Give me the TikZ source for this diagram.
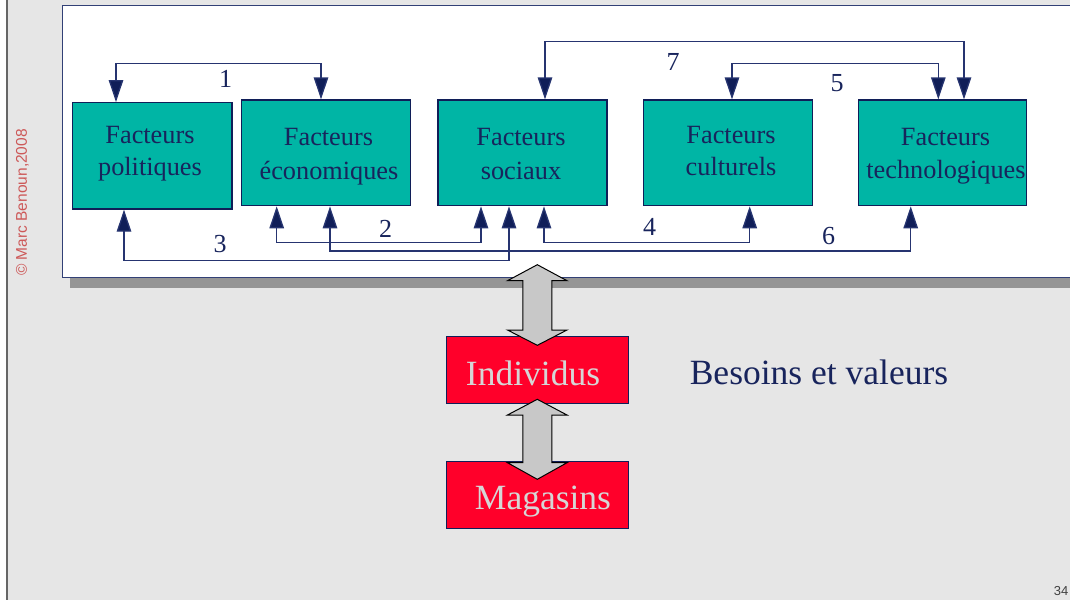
\documentclass[tikz,border=0pt]{standalone}
\usepackage{fontspec}
\setmainfont{Liberation Serif}
\newfontfamily\sansf{Liberation Sans}
\usetikzlibrary{arrows.meta}
\definecolor{bgc}{RGB}{230,230,230}
\definecolor{navy}{RGB}{16,30,88}
\definecolor{linec}{RGB}{38,52,112}
\definecolor{panelc}{RGB}{50,64,118}
\definecolor{tealbox}{RGB}{0,181,165}
\definecolor{redbox}{RGB}{255,0,42}
\definecolor{shadowc}{RGB}{149,149,149}
\definecolor{arrowgray}{RGB}{200,200,200}
\definecolor{copyc}{RGB}{205,88,88}
\definecolor{boxtxt}{RGB}{214,214,214}
\definecolor{txtc}{RGB}{24,36,92}
\tikzset{
  facbox/.style={draw=navy, line width=1.3pt, fill=tealbox, inner sep=0pt},
  redrect/.style={draw=navy, line width=0.9pt, fill=redbox, inner sep=0pt},
  btxt/.style={anchor=base, inner sep=0pt, text=txtc, font=\fontsize{26.3}{33}\selectfont},
  numlbl/.style={anchor=center, inner sep=0pt, text=txtc, font=\fontsize{26}{33}\selectfont},
  bigtxt/.style={anchor=base, inner sep=0pt, font=\fontsize{35.5}{42}\selectfont},
  tip/.tip={Triangle[width=14.5pt,length=22pt,fill=navy]},
  biarr/.style={draw=linec, line width=1.3pt, {tip}-{tip}},
  bigarr/.style={draw=black, line width=1pt, fill=arrowgray, line join=miter},
}
\begin{document}
\begin{tikzpicture}[x=1pt,y=-1pt]
\useasboundingbox (0,0) rectangle (1070,600);
\clip (0,0) rectangle (1070,600);
% background
\fill[white] (0,0) rectangle (1070,600);
\fill[bgc] (7,0) rectangle (1070,600);
\draw[gray!80!black, line width=1.2pt] (7,0) -- (7,600);
% copyright
\node[rotate=90, inner sep=0pt, text=copyc, font=\sansf\fontsize{15.5}{17}\selectfont] (copy) at (22.5,202.5) {© Marc Benoun,2008};
\node[inner sep=0pt, text=black!75, font=\sansf\fontsize{13}{15}\selectfont] (pnum) at (1061,591) {34};
% panel
\fill[shadowc] (70,15) rectangle (1090,288);
\draw[draw=panelc, line width=1.3pt, fill=white] (62.7,5.7) rectangle (1090,277.7);
% boxes
\node[facbox, minimum width=159.7pt, minimum height=106.3pt] (pol) at (152.15,155.85) {};
\node[facbox, minimum width=168.6pt, minimum height=105.7pt] (eco) at (326,152.85) {};
\node[facbox, minimum width=169pt, minimum height=105.7pt] (soc) at (522.5,152.85) {};
\node[facbox, minimum width=169pt, minimum height=105.7pt] (cult) at (727.8,152.85) {};
\node[facbox, minimum width=168.4pt, minimum height=105.7pt] (tech) at (942.5,152.85) {};
\node[btxt] (pol1) at (150,143.3) {Facteurs};
\node[btxt] (pol2) at (150,175.7) {politiques};
\node[btxt] (eco1) at (328.5,145.7) {Facteurs};
\node[btxt] (eco2) at (329,179) {économiques};
\node[btxt] (soc1) at (521,145.7) {Facteurs};
\node[btxt] (soc2) at (521,179) {sociaux};
\node[btxt] (cult1) at (731,143.3) {Facteurs};
\node[btxt] (cult2) at (731,175.7) {culturels};
\node[btxt] (tech1) at (945.5,145.7) {Facteurs};
\node[btxt] (tech2) at (946,178) {technologiques};
% connectors
\draw[biarr] (pol.north -| 116,0) -- (116,63.7) -- (321,63.7) -- (eco.north -| 321,0);
\draw[biarr] (soc.north -| 545,0) -- (545,41.7) -- (964,41.7) -- (tech.north -| 964,0);
\draw[biarr] (cult.north -| 732,0) -- (732,63.5) -- (938.3,63.5) -- (tech.north -| 938.3,0);
\draw[biarr] (eco.south -| 276.7,0) -- (276.7,242.3) -- (481,242.3) -- (soc.south -| 481,0);
\draw[biarr] (eco.south -| 330,0) -- (330,251) -- (910.7,251) -- (tech.south -| 910.7,0);
\draw[biarr] (pol.south -| 124,0) -- (124,260.3) -- (509,260.3) -- (soc.south -| 509,0);
\draw[biarr] (soc.south -| 544,0) -- (544,242.3) -- (749.7,242.3) -- (cult.south -| 749.7,0);
\node[numlbl] (n1) at (225.7,79.3) {1};
\node[numlbl] (n2) at (385.5,229) {2};
\node[numlbl] (n3) at (220,244.3) {3};
\node[numlbl] (n4) at (649.5,226.7) {4};
\node[numlbl] (n5) at (837,83.3) {5};
\node[numlbl] (n6) at (828.5,235.7) {6};
\node[numlbl] (n7) at (673,61.7) {7};
% red boxes
\node[redrect, minimum width=182pt, minimum height=67.3pt] (ind) at (537,369.65) {};
\node[redrect, minimum width=182pt, minimum height=67pt] (mag) at (537,494.8) {};
\node[bigtxt, text=boxtxt] (indt) at (533,385) {Individus};
\node[bigtxt, text=boxtxt] (magt) at (543,509) {Magasins};
\node[bigtxt, text=txtc, anchor=base west] (besoins) at (689.6,384) {Besoins et valeurs};
% big double arrows
\draw[bigarr] (537.3,264.7) -- (567,280.7) -- (551.8,280.7) -- (551.8,330) -- (567,330) -- (537.3,345.3) -- (507.5,330) -- (522.9,330) -- (522.9,280.7) -- (507.5,280.7) -- cycle;
\draw[bigarr] (537.3,399.3) -- (567,415) -- (551.8,415) -- (551.8,462.7) -- (567,462.7) -- (537.3,479.3) -- (507.5,462.7) -- (522.9,462.7) -- (522.9,415) -- (507.5,415) -- cycle;
\end{tikzpicture}
\end{document}
